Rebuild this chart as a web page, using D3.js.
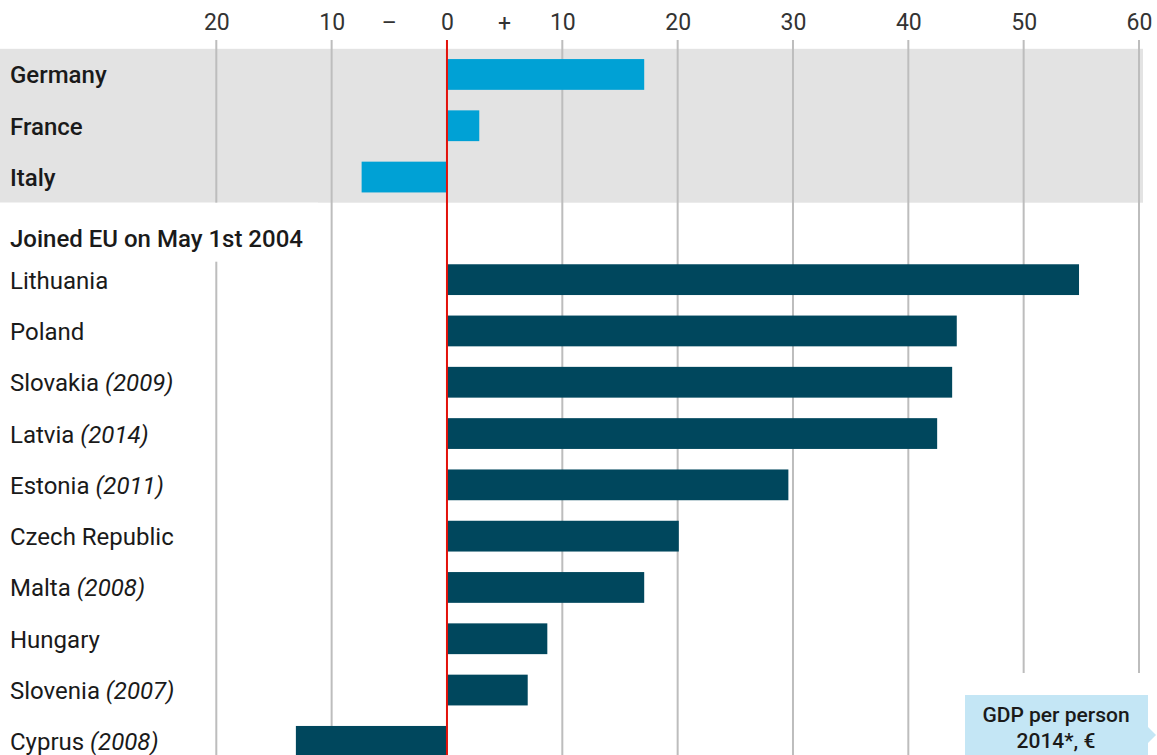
<!DOCTYPE html>
<html lang="en">
<head>
    <meta charset="UTF-8">
    <title>GDP per person change since 2004</title>
    <style>
        body { margin: 0; background: #fff; }
        text { font-family: "Roboto", "Noto Sans", sans-serif; }
    </style>
</head>
<body>
    <svg id="chart" width="1157" height="755"></svg>

    <script src="https://d3js.org/d3.v7.min.js"></script>

    <script>
        // Countries, in chart order; the first three sit in the grey "old members" band
        const countries = ["Germany", "France", "Italy", "Lithuania", "Poland", "Slovakia", "Latvia",
            "Estonia", "Czech Republic", "Malta", "Hungary", "Slovenia", "Cyprus"];
        const euroYears = [null, null, null, null, null, "2009", "2014", "2011", null, "2008", null, "2007", "2008"];
        const groups = ["old", "old", "old", "new", "new", "new", "new", "new", "new", "new", "new", "new", "new"];
        // % change in GDP per person
        const changes = [17.1, 2.8, -7.4, 54.8, 44.2, 43.8, 42.5, 29.6, 20.1, 17.1, 8.7, 7.0, -13.1];

        const tickValues = [-20, -10, 0, 10, 20, 30, 40, 50, 60];
        const signTicks = [{ v: -5, t: "–" }, { v: 5, t: "+" }];
        const headerLabel = "Joined EU on May 1st 2004";

        const data = countries.map((c, i) => ({ name: c, year: euroYears[i], group: groups[i], value: changes[i] }));

        const svg = d3.select("#chart");
        const W = +svg.attr("width"), H = +svg.attr("height");

        // rows: the header takes a slot of its own between the groups
        const rows = countries.slice(0, 3).concat(["__header"], countries.slice(3));
        const step = 51.3;
        const y0 = 48.8;
        const y = d3.scaleBand()
            .domain(rows)
            .range([y0, y0 + rows.length * step])
            .paddingInner(0.4)
            .paddingOuter(0.2);

        const x = d3.scaleLinear().domain([-20, 60]).range([216.3, 1139]);

        // grey band behind the old members
        svg.append("rect")
            .attr("x", 0).attr("y", y0)
            .attr("width", 1143).attr("height", 3 * step)
            .attr("fill", "#e3e3e3");

        // gridlines
        svg.append("g")
            .selectAll("line")
            .data(tickValues.filter(d => d !== 0))
            .join("line")
            .attr("x1", d => x(d)).attr("x2", d => x(d))
            .attr("y1", 40).attr("y2", H)
            .attr("stroke", "#bdbdbd")
            .attr("stroke-width", 2);

        // axis labels on top
        const axis = svg.append("g")
            .attr("transform", "translate(0,33)")
            .call(d3.axisTop(x).tickValues(tickValues).tickSize(0).tickFormat(d => Math.abs(d)));
        axis.select(".domain").remove();
        axis.selectAll("text")
            .attr("font-family", "Roboto, 'Noto Sans', sans-serif")
            .attr("font-size", 23)
            .attr("fill", "#333");

        svg.append("g")
            .selectAll("text")
            .data(signTicks)
            .join("text")
            .attr("x", d => x(d.v))
            .attr("y", 31)
            .attr("text-anchor", "middle")
            .attr("font-size", 23)
            .attr("fill", "#333")
            .text(d => d.t);

        // white patch where the header sits over the gridlines
        svg.append("rect")
            .attr("x", 0).attr("y", y0 + 3 * step)
            .attr("width", 318).attr("height", 59)
            .attr("fill", "#fff");

        // bars
        svg.append("g")
            .selectAll("rect")
            .data(data)
            .join("rect")
            .attr("x", d => x(Math.min(0, d.value)))
            .attr("y", d => y(d.name))
            .attr("width", d => Math.abs(x(d.value) - x(0)))
            .attr("height", y.bandwidth())
            .attr("fill", d => d.group === "old" ? "#00a1d5" : "#00475d");

        // zero line
        svg.append("line")
            .attr("x1", x(0)).attr("x2", x(0))
            .attr("y1", 40).attr("y2", H)
            .attr("stroke", "#e3120b")
            .attr("stroke-width", 2);

        // country labels
        const labels = svg.append("g")
            .selectAll("text")
            .data(data)
            .join("text")
            .attr("x", 10)
            .attr("y", d => y(d.name) + y.bandwidth() / 2 + 9)
            .attr("font-size", 24)
            .attr("fill", "#1a1a1a")
            .attr("font-weight", d => d.group === "old" ? 500 : "normal");
        labels.append("tspan").text(d => d.name);
        labels.filter(d => d.year)
            .append("tspan")
            .attr("font-style", "italic")
            .text(d => " (" + d.year + ")");

        svg.append("text")
            .attr("x", 10)
            .attr("y", y("__header") + y.bandwidth() / 2 + 19)
            .attr("font-size", 24)
            .attr("font-weight", 500)
            .attr("fill", "#1a1a1a")
            .text(headerLabel);

        // legend box, bottom right
        svg.append("rect")
            .attr("x", 950).attr("y", 673)
            .attr("width", W - 950).attr("height", H - 673)
            .attr("fill", "#fff");
        svg.append("path")
            .attr("d", "M965,695 H1148 V727 L1156,735 L1148,743 V755 H965 Z")
            .attr("fill", "#c4e6f5");
        svg.append("text")
            .attr("x", 1056).attr("y", 722)
            .attr("text-anchor", "middle")
            .attr("font-size", 21)
            .attr("font-weight", 500)
            .attr("fill", "#1a1a1a")
            .text("GDP per person");
        svg.append("text")
            .attr("x", 1056).attr("y", 748)
            .attr("text-anchor", "middle")
            .attr("font-size", 21)
            .attr("font-weight", 500)
            .attr("fill", "#1a1a1a")
            .text("2014*, €");
    </script>
</body>
</html>
